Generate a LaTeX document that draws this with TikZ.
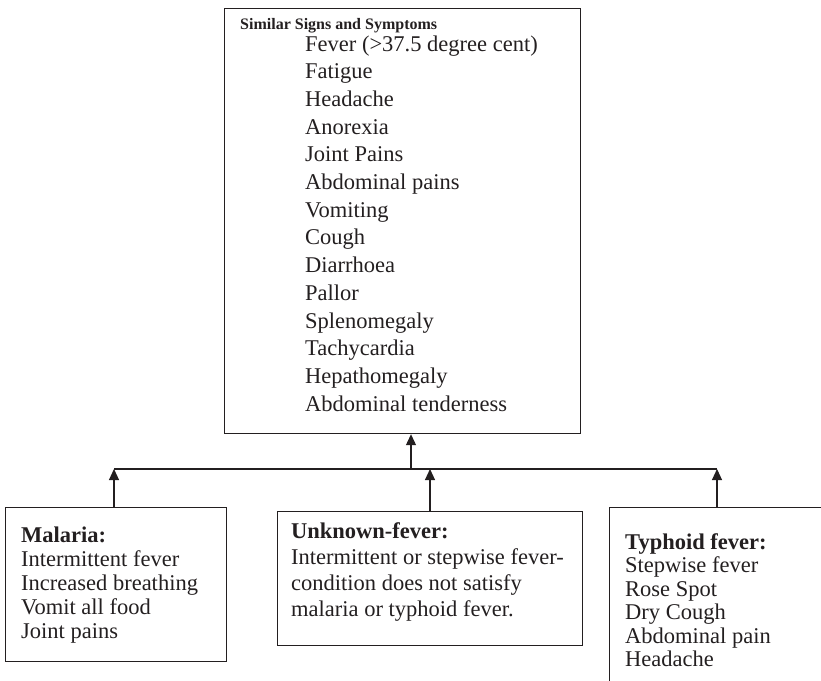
\documentclass[tikz,border=0pt]{standalone}
\usepackage{fontspec}
\setmainfont{Liberation Serif}
\usetikzlibrary{arrows.meta}
\definecolor{ink}{HTML}{231F20}
\begin{document}
\begin{tikzpicture}[x=1pt,y=-1pt,
  box/.style={draw=ink, line width=1.2pt, rectangle, inner sep=0pt, anchor=north west},
  txt/.style={anchor=base west, inner sep=0pt, text=ink, font=\fontsize{22.5}{27}\selectfont},
  bold/.style={txt, font=\fontsize{22.5}{27}\selectfont\bfseries},
  hd/.style={anchor=base west, inner sep=0pt, text=ink, font=\fontsize{16}{18}\selectfont\bfseries},
  conn/.style={draw=ink, line width=1.1pt},
  arr/.style={conn, -{Triangle[length=11pt,width=10pt]}}]
\useasboundingbox (0,0) rectangle (821,680);
\clip (0,0) rectangle (821,680);
% boxes
\node[box, minimum width=356pt, minimum height=425pt] (top) at (224,8) {};
\node[box, minimum width=221pt, minimum height=154pt] (mal) at (5,507) {};
\node[box, minimum width=305pt, minimum height=134pt] (unk) at (277,511) {};
\node[box, minimum width=240pt, minimum height=200pt] (typ) at (609,507) {};
% top box text
\node[hd] (head) at (240,29) {Similar Signs and Symptoms};
\foreach \t [count=\i] in {Fever (>37.5 degree cent),Fatigue,Headache,Anorexia,Joint Pains,Abdominal pains,Vomiting,Cough,Diarrhoea,Pallor,Splenomegaly,Tachycardia,Hepathomegaly,Abdominal tenderness}
  \node[txt] (s\i) at (305,{51+27.7*(\i-1)}) {\t};
% malaria
\node[bold] (malh) at (21,542) {Malaria:};
\foreach \t [count=\i] in {Intermittent fever,Increased breathing,Vomit all food,Joint pains}
  \node[txt] (m\i) at (21,{542+24*\i}) {\t};
% unknown
\node[bold] (unkh) at (291,538) {Unknown-fever:};
\foreach \t [count=\i] in {Intermittent or stepwise fever-,condition does not satisfy,malaria or typhoid fever.}
  \node[txt] (u\i) at (291,{538+26*\i}) {\t};
% typhoid
\node[bold] (typh) at (625,549) {Typhoid fever:};
\foreach \t [count=\i] in {Stepwise fever,Rose Spot,Dry Cough,Abdominal pain,Headache}
  \node[txt] (t\i) at (625,{549+23.5*\i}) {\t};
% connectors
\coordinate (jl) at (114,469);
\coordinate (jr) at (717,469);
\coordinate (jm) at (411,469);
\coordinate (ju) at (430,469);
\draw[conn] (jl) -- (jr);
\draw[arr] (jm) -- (jm |- top.south);
\draw[arr] (jl |- mal.north) -- (jl);
\draw[arr] (ju |- unk.north) -- (ju);
\draw[arr] (jr |- typ.north) -- (jr);
\end{tikzpicture}
\end{document}
